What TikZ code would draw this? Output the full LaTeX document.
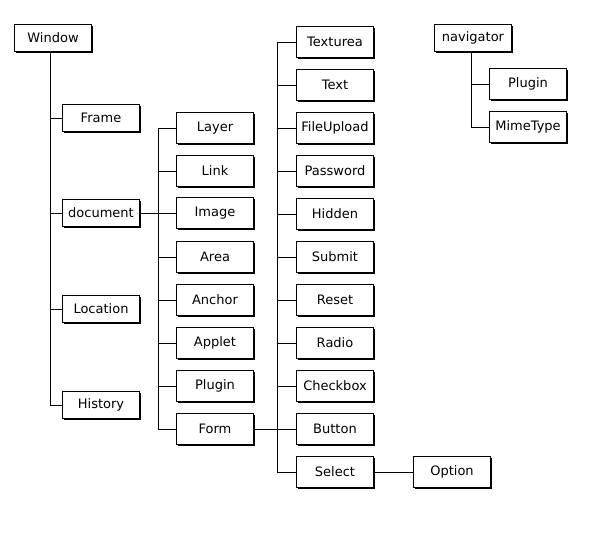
\documentclass[tikz,border=0pt]{standalone}
\usepackage{fontspec}
\setmainfont{DejaVu Sans}
\usetikzlibrary{shapes,shadows}

\begin{document}
\begin{tikzpicture}[x=1pt, y=-1pt, line width=1pt]
\tikzstyle{box} = [rectangle, draw, fill=white, inner sep=0pt,
	minimum width=77pt, minimum height=31pt,
	font=\fontsize{13}{15}\selectfont,
	drop shadow={shadow xshift=1.5pt, shadow yshift=-1.5pt, opacity=1, fill=black}]
\tikzstyle{top} = [box, minimum height=27pt]
\useasboundingbox (0,0) rectangle (591,541);

% window and its children
\node[top] (win) at (53,38) {Window};
\node[top] (frame) at (101,118) {Frame};
\node[top] (doc) at (101,213) {document};
\node[top] (loc) at (101,309) {Location};
\node[top] (hist) at (101,405) {History};

% document objects
\node[box] (layer) at (215,128) {Layer};
\node[box] (link) at (215,171) {Link};
\node[box] (image) at (215,213) {Image};
\node[box] (area) at (215,257) {Area};
\node[box] (anchor) at (215,300) {Anchor};
\node[box] (applet) at (215,343) {Applet};
\node[box] (dplugin) at (215,386) {Plugin};
\node[box] (form) at (215,429) {Form};

% form elements
\node[box] (texturea) at (335,42) {Texturea};
\node[box] (text) at (335,85) {Text};
\node[box] (upload) at (335,128) {FileUpload};
\node[box] (password) at (335,171) {Password};
\node[box] (hidden) at (335,214) {Hidden};
\node[box] (submit) at (335,257) {Submit};
\node[box] (reset) at (335,300) {Reset};
\node[box] (radio) at (335,343) {Radio};
\node[box] (checkbox) at (335,386) {Checkbox};
\node[box] (button) at (335,429) {Button};
\node[box] (select) at (335,472) {Select};
\node[box] (option) at (452,472) {Option};

% navigator
\node[top] (nav) at (473,38) {navigator};
\node[box] (nplugin) at (528,84) {Plugin};
\node[box] (mime) at (528,127) {MimeType};

\coordinate (dtrunk) at (158,128);
\coordinate (ftrunk) at (277,42);

\draw ([xshift=-3pt]win.south) |- (hist.west);
\draw (frame.west) -| ([xshift=-3pt]win.south);
\draw (doc.west) -| ([xshift=-3pt]win.south);
\draw (loc.west) -| ([xshift=-3pt]win.south);

\draw (doc.east) -- (image.west);
\draw (layer.west) -| (dtrunk);
\draw (link.west) -| (dtrunk);
\draw (area.west) -| (dtrunk);
\draw (anchor.west) -| (dtrunk);
\draw (applet.west) -| (dtrunk);
\draw (dplugin.west) -| (dtrunk);
\draw (form.west) -| (dtrunk);

\draw (form.east) -- (button.west);
\draw (texturea.west) -| (ftrunk);
\draw (text.west) -| (ftrunk);
\draw (upload.west) -| (ftrunk);
\draw (password.west) -| (ftrunk);
\draw (hidden.west) -| (ftrunk);
\draw (submit.west) -| (ftrunk);
\draw (reset.west) -| (ftrunk);
\draw (radio.west) -| (ftrunk);
\draw (checkbox.west) -| (ftrunk);
\draw (select.west) -| (ftrunk);
\draw (select.east) -- (option.west);

\draw (nplugin.west) -| ([xshift=-1.5pt]nav.south);
\draw (mime.west) -| ([xshift=-1.5pt]nav.south);
\end{tikzpicture}
\end{document}
